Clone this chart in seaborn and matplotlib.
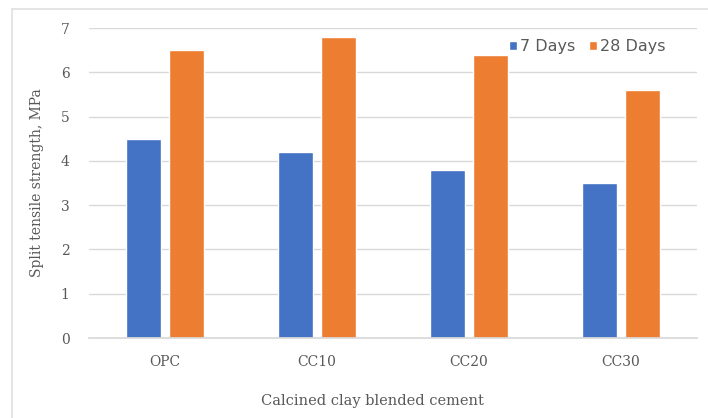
import matplotlib
matplotlib.use("Agg")
import matplotlib.pyplot as plt
from matplotlib.lines import Line2D
import seaborn as sns
import pandas as pd

mixes = ["OPC", "CC10", "CC20", "CC30"]
ages = ["7 Days", "28 Days"]
strength_7d = [4.5, 4.2, 3.8, 3.5]
strength_28d = [6.5, 6.8, 6.4, 5.6]
colors = ["#4472C4", "#ED7D31"]

df = pd.DataFrame({
    "Mix": mixes * 2,
    "Age": [ages[0]] * len(mixes) + [ages[1]] * len(mixes),
    "Strength": strength_7d + strength_28d,
})

sns.set_theme(style="white")
text_color = "#595959"
grid_color = "#D9D9D9"
serif = ["DejaVu Serif"]

fig = plt.figure(figsize=(7.08, 4.18), dpi=100)
ax = fig.add_axes([89 / 708, 1 - 338 / 418, (697 - 89) / 708, (338 - 28) / 418])

sns.barplot(data=df, x="Mix", y="Strength", hue="Age", palette=colors,
            width=0.567, gap=0.18, ax=ax, saturation=1)

ax.set_ylim(0, 7)
ax.set_yticks(range(0, 8))
ax.yaxis.grid(True, color=grid_color, linewidth=1)
ax.set_axisbelow(True)
for side in ["top", "right", "left"]:
    ax.spines[side].set_visible(False)
ax.spines["bottom"].set_color(grid_color)
ax.tick_params(axis="both", length=0, colors=text_color, labelsize=10)
ax.tick_params(axis="y", pad=14)
ax.tick_params(axis="x", pad=12)
for lbl in ax.get_xticklabels() + ax.get_yticklabels():
    lbl.set_family(serif)
    lbl.set_color(text_color)

ax.set_xlabel("")
ax.set_ylabel("Split tensile strength, MPa", family=serif, fontsize=10,
              color=text_color, labelpad=12)
fig.text(372 / 708, 1 - 401 / 418, "Calcined clay blended cement",
         family=serif, fontsize=10.5, color=text_color, ha="center", va="center")

leg = ax.legend(loc="center right", bbox_to_anchor=(666 / 708, 1 - 47 / 418),
                bbox_transform=fig.transFigure, borderaxespad=0, borderpad=0,
                ncol=2, frameon=False, handlelength=0.5, handleheight=0.5,
                handletextpad=0.25, columnspacing=0.8, labelcolor=text_color,
                prop={"family": ["DejaVu Sans"], "size": 11.5})

# chart area border
fig.add_artist(Line2D([12 / 708, 12 / 708], [0, 1 - 9 / 418],
                      transform=fig.transFigure, color="#E0E0E0", linewidth=1.2))
fig.add_artist(Line2D([12 / 708, 1], [1 - 9 / 418, 1 - 9 / 418],
                      transform=fig.transFigure, color="#E0E0E0", linewidth=1.2))

fig.savefig("out.png", dpi=100, facecolor="white")
